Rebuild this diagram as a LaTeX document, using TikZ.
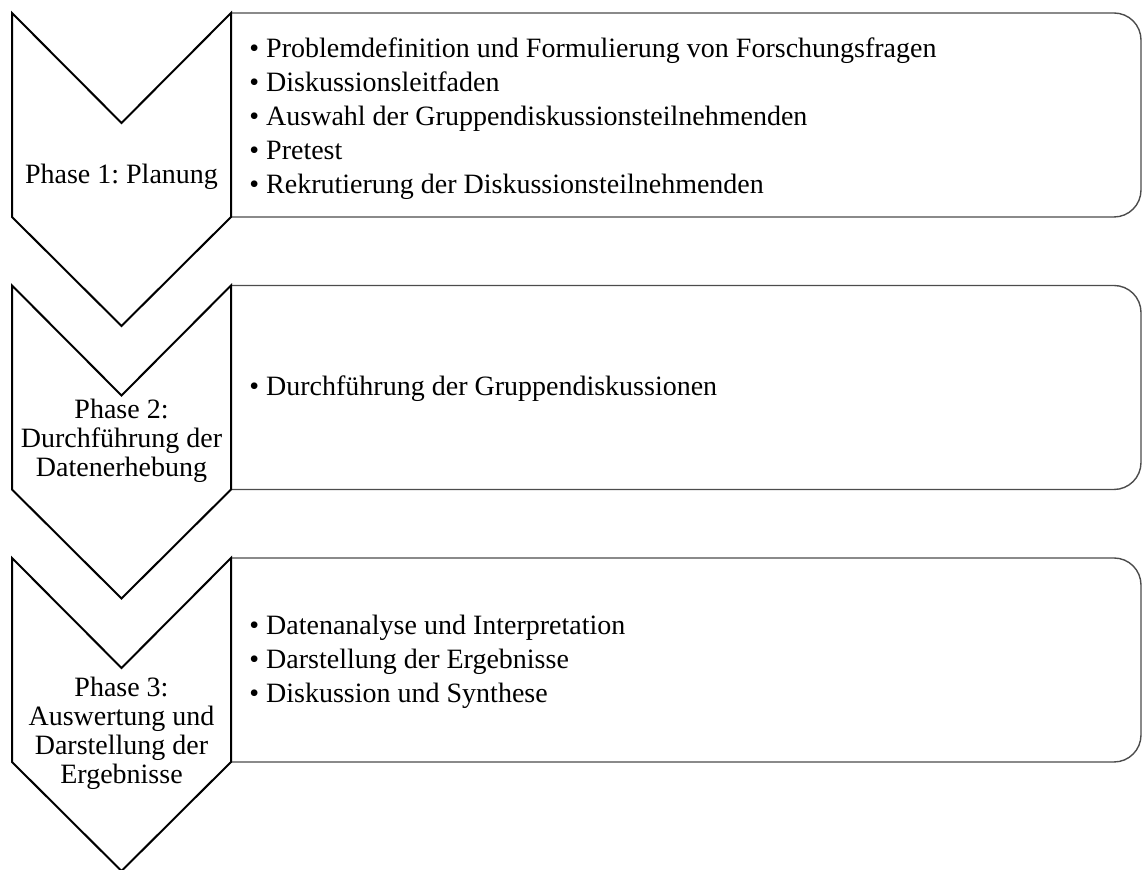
\documentclass[tikz,border=0pt]{standalone}
\usepackage{fontspec}
\setmainfont{Liberation Serif}
\frenchspacing
\begin{document}
\begin{tikzpicture}[x=0.5pt,y=-0.5pt,
  chevron/.style={draw=black,fill=white,line width=1pt,line join=miter},
  panel/.style={draw=black!70,line width=0.7pt,rounded corners=13.5pt},
  phaselabel/.style={font=\fontsize{14pt}{14.5pt}\selectfont,align=center,inner sep=0pt,anchor=center},
  itemlist/.style={font=\fontsize{14pt}{17pt}\selectfont,align=left,inner sep=0pt,anchor=west}]
\useasboundingbox (0,0) rectangle (1142,870);

% right-hand panels (left edge is covered by the chevron)
\foreach \t/\b in {13/217, 285.5/489.5, 558/762}
  \draw[panel] (231,\t) -- (1141,\t) -- (1141,\b) -- (231,\b);

% downward chevrons
\foreach \o in {0, 272.5, 545}
  \draw[chevron] (12,13+\o) -- (121.5,123+\o) -- (231,13+\o) -- (231,217+\o)
    -- (121.5,326+\o) -- (12,217+\o) -- cycle;

% phase labels
\node[phaselabel] (p1) at (121.5,176.5) {Phase 1: Planung};
\node[phaselabel] (p2) at (121.5,441) {Phase 2:\\Durchführung der\\Datenerhebung};
\node[phaselabel] (p3) at (121.5,733) {Phase 3:\\Auswertung und\\Darstellung der\\Ergebnisse};

% activities of each phase
\node[itemlist] (l1) at (249,118.5) {• Problemdefinition und Formulierung von Forschungsfragen\\
  • Diskussionsleitfaden\\
  • Auswahl der Gruppendiskussionsteilnehmenden\\
  • Pretest\\
  • Rekrutierung der Diskussionsteilnehmenden};
\node[itemlist] (l2) at (249,388.5) {• Durchführung der Gruppendiskussionen};
\node[itemlist] (l3) at (249,662) {• Datenanalyse und Interpretation\\
  • Darstellung der Ergebnisse\\
  • Diskussion und Synthese};
\end{tikzpicture}
\end{document}
